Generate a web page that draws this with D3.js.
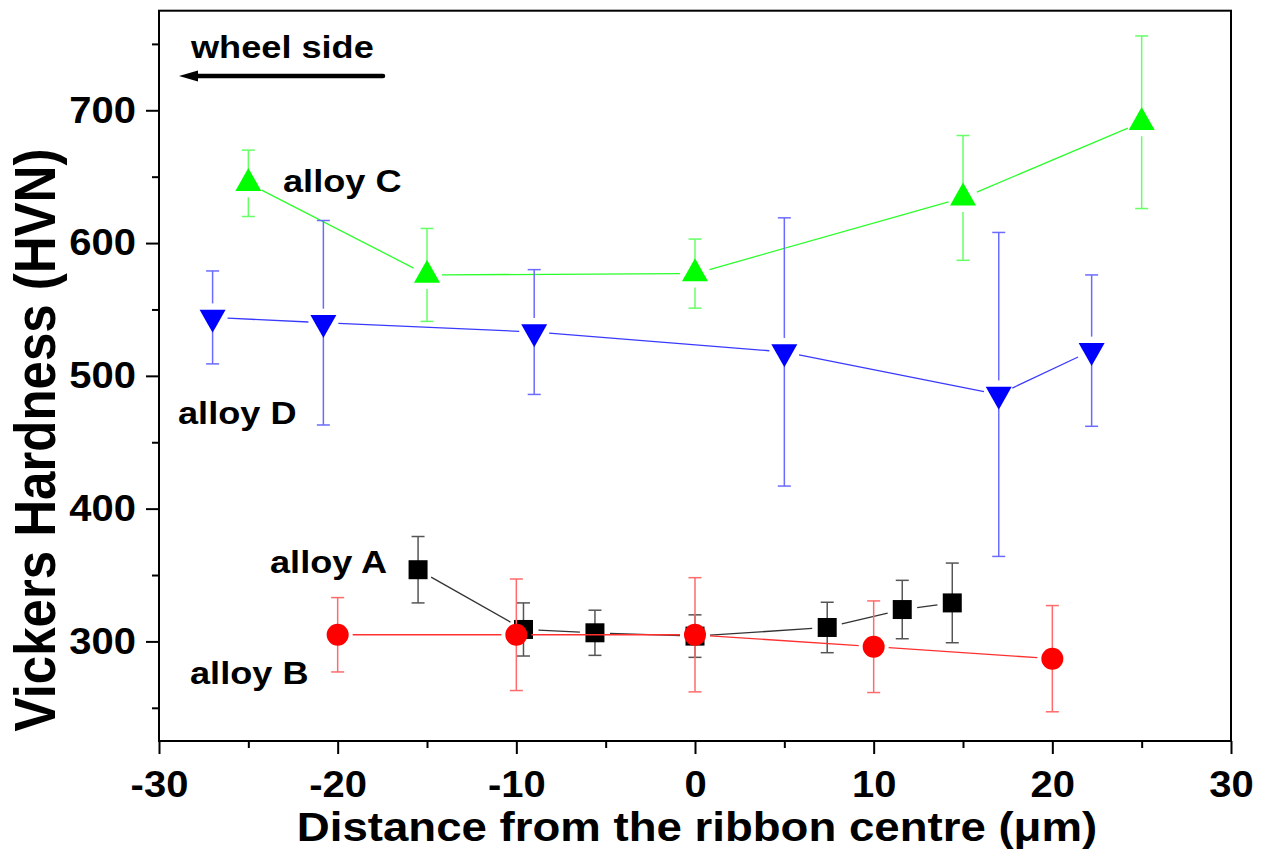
<!DOCTYPE html>
<html>
<head>
<meta charset="utf-8">
<script src="https://cdn.jsdelivr.net/npm/d3@7"></script>
<style>
  body { margin: 0; background: #fff; }
  text { font-family: "Liberation Sans", Arial, sans-serif; font-weight: bold; fill: #000; }
</style>
</head>
<body>
<svg width="1268" height="864"></svg>
<script>
// Vickers hardness across the ribbon, four alloys

// Data
const alloyA_x   = [-15.5, -9.6, -5.6, 0, 7.4, 11.6, 14.4];
const alloyA_hv  = [354, 309, 306.5, 304, 310.5, 324, 329];
const alloyA_err = [25, 20, 17, 16, 19, 22, 30];

const alloyB_x   = [-20, -10, 0, 10, 20];
const alloyB_hv  = [305, 305, 305, 296, 287];
const alloyB_err = [28, 42, 43, 34.5, 40];

const alloyC_x   = [-25, -15, 0, 15, 25];
const alloyC_hv  = [645, 576, 577, 634, 691];
const alloyC_err = [25, 35, 26, 47, 65];

const alloyD_x   = [-27, -20.8, -9, 5, 17, 22.2];
const alloyD_hv  = [544, 540, 533, 518, 486, 519];
const alloyD_err = [35, 77, 47, 101, 122, 57];

const xTicks = [-30, -20, -10, 0, 10, 20, 30];
const xMinor = [-25, -15, -5, 5, 15, 25];
const yTicks = [300, 400, 500, 600, 700];
const yMinor = [250, 350, 450, 550, 650, 750];

// Layout
const SX = 1.13;  // the figure is a bit wide, stretch the text to match
const TSX = 1.08; // stretch for tick labels
const plot = {left: 159, right: 1231, top: 10.7, bottom: 741};

const svg = d3.select("svg");

const x = d3.scaleLinear().domain([-30, 30]).range([plot.left, plot.right]);
const y = d3.scaleLinear().domain([225, 775]).range([plot.bottom, plot.top]);

// series styling
const series = [
  {name: "alloy C", xs: alloyC_x, ys: alloyC_hv, es: alloyC_err, shape: "up",
   fill: "#00ff00", line: "#2bff2b", bar: "#66ff66", barGap: 14},
  {name: "alloy D", xs: alloyD_x, ys: alloyD_hv, es: alloyD_err, shape: "down",
   fill: "#0000ff", line: "#3a3aff", bar: "#6b6bff", barGap: 14},
  {name: "alloy A", xs: alloyA_x, ys: alloyA_hv, es: alloyA_err, shape: "square",
   fill: "#000000", line: "#333333", bar: "#555555", barGap: 0},
  {name: "alloy B", xs: alloyB_x, ys: alloyB_hv, es: alloyB_err, shape: "circle",
   fill: "#ff0000", line: "#ff3030", bar: "#ff6b6b", barGap: 0}
];

const LINEGAP = 15;   // Origin-style gap between the line and the symbol
const CAP = 6.5;      // half width of error bar caps

function markerPath(shape) {
  if (shape === "up") return "M0,-15.3L13,7.7L-13,7.7Z";
  if (shape === "down") return "M0,15.3L13,-7.7L-13,-7.7Z";
  if (shape === "square") return "M-9.5,-9.5H9.5V9.5H-9.5Z";
  return d3.symbol().type(d3.symbolCircle).size(Math.PI * 11 * 11)();
}

const gData = svg.append("g");

series.forEach(function(s) {
  let pts = s.xs.map((v, i) => ({px: x(v), py: y(s.ys[i]), e: s.es[i], hv: s.ys[i]}));
  let g = gData.append("g");

  // connecting lines, broken around each symbol
  for (let i = 0; i < pts.length - 1; i++) {
    let a = pts[i], b = pts[i + 1];
    let dx = b.px - a.px, dy = b.py - a.py;
    let len = Math.sqrt(dx * dx + dy * dy);
    if (len <= 2 * LINEGAP) continue;
    let ux = dx / len, uy = dy / len;
    g.append("line")
      .attr("x1", a.px + ux * LINEGAP).attr("y1", a.py + uy * LINEGAP)
      .attr("x2", b.px - ux * LINEGAP).attr("y2", b.py - uy * LINEGAP)
      .attr("stroke", s.line)
      .attr("stroke-width", 1.3);
  }

  // error bars
  pts.forEach(function(p) {
    let top = y(p.hv + p.e), bot = y(p.hv - p.e);
    let bg = g.append("g").attr("stroke", s.bar).attr("stroke-width", 1.5).attr("fill", "none");
    bg.append("line").attr("x1", p.px).attr("x2", p.px).attr("y1", top).attr("y2", p.py - s.barGap);
    bg.append("line").attr("x1", p.px).attr("x2", p.px).attr("y1", p.py + s.barGap).attr("y2", bot);
    bg.append("line").attr("x1", p.px - CAP).attr("x2", p.px + CAP).attr("y1", top).attr("y2", top);
    bg.append("line").attr("x1", p.px - CAP).attr("x2", p.px + CAP).attr("y1", bot).attr("y2", bot);
  });

  // symbols
  g.selectAll("path.marker")
    .data(pts)
    .enter().append("path")
    .attr("class", "marker")
    .attr("d", markerPath(s.shape))
    .attr("transform", d => "translate(" + d.px + "," + d.py + ")")
    .attr("fill", s.fill);
});

// Axes
const tickFont = 37;
const plainNum = d => String(d);   // keep the ascii hyphen for negatives

let xAxis = svg.append("g")
  .attr("transform", "translate(0," + plot.bottom + ")")
  .call(d3.axisBottom(x).tickValues(xTicks).tickSize(13).tickPadding(17).tickFormat(plainNum));
let xMinorAxis = svg.append("g")
  .attr("transform", "translate(0," + plot.bottom + ")")
  .call(d3.axisBottom(x).tickValues(xMinor).tickSize(7).tickFormat(""));

let yAxis = svg.append("g")
  .attr("transform", "translate(" + plot.left + ",0)")
  .call(d3.axisLeft(y).tickValues(yTicks).tickSize(13).tickPadding(10).tickFormat(plainNum));
let yMinorAxis = svg.append("g")
  .attr("transform", "translate(" + plot.left + ",0)")
  .call(d3.axisLeft(y).tickValues(yMinor).tickSize(7).tickFormat(""));

[xAxis, xMinorAxis, yAxis, yMinorAxis].forEach(function(a) {
  a.select(".domain").remove();
  a.selectAll(".tick line").attr("stroke", "#000").attr("stroke-width", 2);
});

xAxis.selectAll(".tick text")
  .attr("font-size", tickFont)
  .attr("font-family", "Liberation Sans, Arial, sans-serif")
  .attr("font-weight", "bold")
  .attr("fill", "#000")
  .attr("transform", "scale(" + TSX + ",1)");

yAxis.selectAll(".tick text")
  .attr("font-size", tickFont)
  .attr("font-family", "Liberation Sans, Arial, sans-serif")
  .attr("font-weight", "bold")
  .attr("fill", "#000")
  .attr("x", -23 / TSX)
  .attr("transform", "scale(" + TSX + ",1)");

// Frame
svg.append("rect")
  .attr("x", plot.left).attr("y", plot.top)
  .attr("width", plot.right - plot.left)
  .attr("height", plot.bottom - plot.top)
  .attr("fill", "none")
  .attr("stroke", "#000")
  .attr("stroke-width", 2);

// Axis titles
svg.append("text")
  .attr("transform", "translate(697,841) scale(" + 1.14 + ",1)")
  .attr("text-anchor", "middle")
  .attr("font-size", 40)
  .text("Distance from the ribbon centre (\u03bcm)");

svg.append("text")
  .attr("transform", "translate(55,440) scale(" + 1.14 + ",1) rotate(-90)")
  .attr("text-anchor", "middle")
  .attr("font-size", 51)
  .text("Vickers Hardness (HVN)");

// Series labels
const labels = [
  {t: "alloy C", x: 283, y: 192},
  {t: "alloy D", x: 178, y: 424},
  {t: "alloy A", x: 270, y: 573},
  {t: "alloy B", x: 190, y: 684}
];
labels.forEach(function(l) {
  svg.append("text")
    .attr("transform", "translate(" + l.x + "," + l.y + ") scale(" + SX + ",1)")
    .attr("font-size", 32)
    .text(l.t);
});

// wheel side annotation
svg.append("text")
  .attr("transform", "translate(191,58) scale(" + SX + ",1)")
  .attr("font-size", 32)
  .text("wheel side");

svg.append("line")
  .attr("x1", 383).attr("y1", 76)
  .attr("x2", 194).attr("y2", 76)
  .attr("stroke", "#000")
  .attr("stroke-width", 4.5)
  .attr("stroke-linecap", "round");
svg.append("path")
  .attr("d", "M179,76L198,70.5L198,81.5Z")
  .attr("fill", "#000");
</script>
</body>
</html>
